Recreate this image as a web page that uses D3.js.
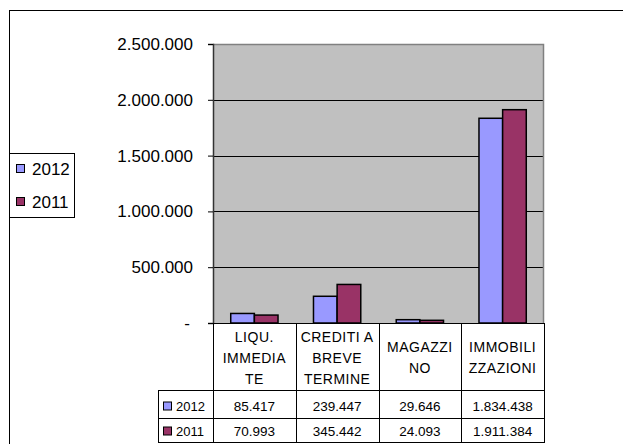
<!DOCTYPE html>
<html>
<head>
<meta charset="utf-8">
<script src="https://cdn.jsdelivr.net/npm/d3@7"></script>
<style>
  body { margin: 0; background: #fff; }
  svg { display: block; font-family: "Liberation Sans", Arial, sans-serif; }
</style>
</head>
<body>
<div id="chart"></div>
<script>
// values
const categories = ["LIQU. IMMEDIATE", "CREDITI A BREVE TERMINE", "MAGAZZINO", "IMMOBILIZZAZIONI"];
const categoryLines = [["LIQU.", "IMMEDIA", "TE"], ["CREDITI A", "BREVE", "TERMINE"], ["MAGAZZI", "NO"], ["IMMOBILI", "ZZAZIONI"]];
const seriesNames = ["2012", "2011"];
const values2012 = [85417, 239447, 29646, 1834438];
const values2011 = [70993, 345442, 24093, 1911384];
const yTicks = [0, 500000, 1000000, 1500000, 2000000, 2500000];
const colors = ["#9999FF", "#993366"];

const series = [values2012, values2011];

const width = 623, height = 444;
const plot = {left: 213, right: 544, top: 44, bottom: 323};
const tableLeft = 158, headerBottom = 391, rowBottoms = [419, 443];

const itLocale = d3.formatLocale({decimal: ",", thousands: ".", grouping: [3], currency: ["€", ""]});
const fmt = itLocale.format(",d");

const svg = d3.select("#chart").append("svg")
    .attr("width", width)
    .attr("height", height);

// outer chart border (only top and left visible)
svg.append("rect")
    .attr("x", 9.5).attr("y", 10.5)
    .attr("width", 700).attr("height", 500)
    .attr("fill", "none").attr("stroke", "#000");

var x = d3.scaleBand()
    .domain(categories)
    .range([plot.left, plot.right]);

var xs = d3.scaleBand()
    .domain(seriesNames)
    .range([0, x.bandwidth()])
    .paddingInner(0)
    .paddingOuter(0.75);

var y = d3.scaleLinear()
    .domain([0, 2500000])
    .range([plot.bottom, plot.top]);

// plot background
svg.append("rect")
    .attr("x", plot.left).attr("y", plot.top)
    .attr("width", plot.right - plot.left).attr("height", plot.bottom - plot.top)
    .attr("fill", "#C0C0C0");

// gridlines
svg.append("g").selectAll("line")
    .data(yTicks.filter(d => d > 0 && d < 2500000))
    .join("line")
    .attr("x1", plot.left).attr("x2", plot.right)
    .attr("y1", d => Math.round(y(d)) + 0.5).attr("y2", d => Math.round(y(d)) + 0.5)
    .attr("stroke", "#000");

// plot border top/right
svg.append("path")
    .attr("d", `M${plot.left},${plot.top + 0.5}H${plot.right - 0.5}V${plot.bottom}`)
    .attr("fill", "none").attr("stroke", "#808080").attr("stroke-width", 1.5);

// bars
const groups = svg.append("g").selectAll("g")
    .data(categories)
    .join("g")
    .attr("transform", d => `translate(${x(d)},0)`);

groups.selectAll("rect")
    .data((c, i) => seriesNames.map((s, j) => ({s: s, v: series[j][i], j: j})))
    .join("rect")
    .attr("x", d => xs(d.s))
    .attr("y", d => y(d.v))
    .attr("width", xs.bandwidth())
    .attr("height", d => y(0) - y(d.v))
    .attr("fill", d => colors[d.j])
    .attr("stroke", "#000")
    .attr("stroke-width", 1.5);

// y axis
const yAxis = svg.append("g")
    .attr("transform", `translate(${plot.left},0)`)
    .call(d3.axisLeft(y)
        .tickValues(yTicks)
        .tickSize(5)
        .tickPadding(15)
        .tickFormat(d => d === 0 ? "-" : fmt(d)));
yAxis.select(".domain").attr("stroke", "#333").attr("stroke-width", 1.5);
yAxis.selectAll(".tick line").attr("stroke", "#000");
yAxis.selectAll(".tick text")
    .attr("fill", "#000")
    .style("font-size", "17px")
    .style("font-family", "'Liberation Sans', Arial, sans-serif");
yAxis.selectAll(".tick").filter(d => d === 0).select("text").attr("dx", -3);

// category axis line
svg.append("line")
    .attr("x1", plot.left - 5).attr("x2", plot.right)
    .attr("y1", plot.bottom + 0.5).attr("y2", plot.bottom + 0.5)
    .attr("stroke", "#000");

// data table
const table = svg.append("g");
const colEdges = categories.map(c => x(c)).concat([plot.right]);

table.selectAll("line.col")
    .data(colEdges)
    .join("line")
    .attr("class", "col")
    .attr("x1", d => Math.round(d) + 0.5).attr("x2", d => Math.round(d) + 0.5)
    .attr("y1", plot.bottom).attr("y2", rowBottoms[1])
    .attr("stroke", "#000");

table.selectAll("line.row")
    .data([headerBottom].concat(rowBottoms))
    .join("line")
    .attr("class", "row")
    .attr("x1", tableLeft).attr("x2", plot.right)
    .attr("y1", d => d - 0.5).attr("y2", d => d - 0.5)
    .attr("stroke", "#000");

table.append("line")
    .attr("x1", tableLeft + 0.5).attr("x2", tableLeft + 0.5)
    .attr("y1", headerBottom).attr("y2", rowBottoms[1])
    .attr("stroke", "#000");

// header labels
const headerMid = (plot.bottom + headerBottom) / 2 + 0.5;
table.selectAll("text.cat")
    .data(categories)
    .join("text")
    .attr("class", "cat")
    .attr("text-anchor", "middle")
    .attr("font-size", 14)
    .attr("letter-spacing", 0.5)
    .each(function(c, i) {
        const lines = categoryLines[i];
        d3.select(this).selectAll("tspan")
            .data(lines)
            .join("tspan")
            .attr("x", x(c) + x.bandwidth() / 2)
            .attr("y", (d, k) => headerMid + (k - (lines.length - 1) / 2) * 21)
            .attr("dominant-baseline", "central")
            .text(d => d);
    });

// value rows
const rowMids = [(headerBottom + rowBottoms[0]) / 2 + 1, (rowBottoms[0] + rowBottoms[1]) / 2];
seriesNames.forEach((s, j) => {
    table.selectAll("text.v" + j)
        .data(series[j])
        .join("text")
        .attr("class", "v" + j)
        .attr("x", (d, i) => x(categories[i]) + x.bandwidth() / 2)
        .attr("y", rowMids[j])
        .attr("text-anchor", "middle")
        .attr("dominant-baseline", "central")
        .attr("font-size", 13.5)
        .text(d => fmt(d));

    table.append("rect")
        .attr("x", 163.5).attr("y", rowMids[j] - 4)
        .attr("width", 8).attr("height", 8)
        .attr("fill", colors[j]).attr("stroke", "#000");
    table.append("text")
        .attr("x", 176).attr("y", rowMids[j])
        .attr("dominant-baseline", "central")
        .attr("font-size", 13)
        .text(s);
});

// legend
const legend = svg.append("g");
legend.append("rect")
    .attr("x", 9.5).attr("y", 153.5)
    .attr("width", 65).attr("height", 64)
    .attr("fill", "#fff").attr("stroke", "#000");
const legendY = [169, 202];
seriesNames.forEach((s, j) => {
    legend.append("rect")
        .attr("x", 16.5).attr("y", legendY[j] - 4.5)
        .attr("width", 8).attr("height", 8)
        .attr("fill", colors[j]).attr("stroke", "#000");
    legend.append("text")
        .attr("x", 32).attr("y", legendY[j])
        .attr("dominant-baseline", "central")
        .attr("font-size", 17)
        .text(s);
});
</script>
</body>
</html>
